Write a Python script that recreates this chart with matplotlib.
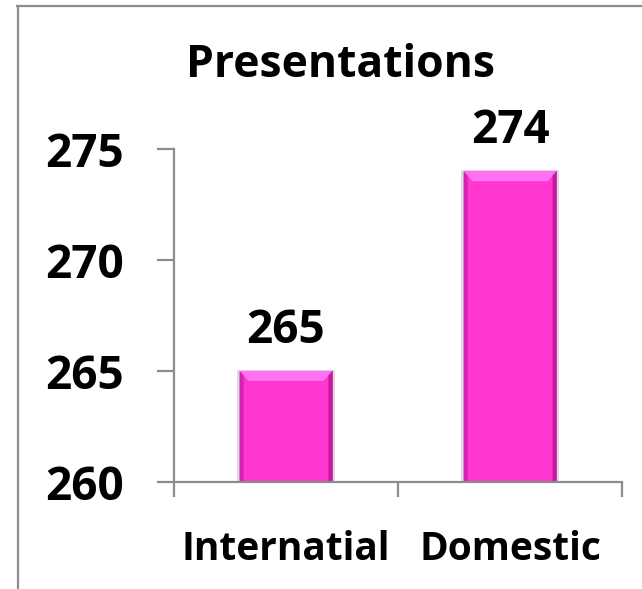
import numpy as np
import matplotlib
matplotlib.use('Agg')
import matplotlib.pyplot as plt
from matplotlib.patches import Polygon, Rectangle
from matplotlib.lines import Line2D

categories = ['Internatial', 'Domestic']
values = [265, 274]
y_ticks = [260, 265, 270, 275]
title = 'Presentations'

plt.rcParams['font.family'] = ['Open Sans', 'DejaVu Sans']
plt.rcParams['font.weight'] = 'bold'

fig = plt.figure(figsize=(6.42, 5.89), dpi=100)
ax = fig.add_axes([0.271, 0.182, 0.698, 0.565])

# outer frame (only top and left edges show)
fig.add_artist(Line2D([0.028, 0.028], [0.0, 0.99], transform=fig.transFigure,
                      color='#8c8c8c', lw=1.6))
fig.add_artist(Line2D([0.027, 1.0], [0.99, 0.99], transform=fig.transFigure,
                      color='#8c8c8c', lw=1.6))

x = np.arange(len(categories))
base = y_ticks[0]
bars = ax.bar(x, np.array(values) - base, bottom=base, width=0.415,
              color='#ff36cf', edgecolor='none', zorder=2)

# bevel: lighter top band, darker sides
bx, by = 0.04, 0.45
for b in bars:
    x0, x1 = b.get_x(), b.get_x() + b.get_width()
    y0, y1 = b.get_y(), b.get_y() + b.get_height()
    ax.add_patch(Polygon([(x0, y1), (x1, y1), (x1 - bx, y1 - by), (x0 + bx, y1 - by)],
                         closed=True, color='#ff72f2', lw=0, zorder=3))
    ax.add_patch(Polygon([(x0, y0), (x0, y1), (x0 + bx * 0.45, y1 - by * 0.45), (x0 + bx * 0.45, y0)],
                         closed=True, color='#d424ad', lw=0, zorder=3))
    ax.add_patch(Polygon([(x1, y0), (x1, y1), (x1 - bx * 0.45, y1 - by * 0.45), (x1 - bx * 0.45, y0)],
                         closed=True, color='#c21c9c', lw=0, zorder=3))
    ax.add_patch(Rectangle((x0 - 0.01, y0), x1 - x0 + 0.02, y1 - y0 + 0.06,
                           color='#a898a8', alpha=0.35, lw=0, zorder=1))
    ax.annotate(str(int(y1)), (b.get_x() + b.get_width() / 2, y1),
                xytext=(0, 20), textcoords='offset points',
                ha='center', va='baseline', fontsize=33, fontweight='bold')

ax.set_xlim(-0.5, len(categories) - 0.5)
ax.set_ylim(y_ticks[0], y_ticks[-1])
ax.set_yticks(y_ticks)
ax.set_yticklabels([str(t) for t in y_ticks], fontsize=33, fontweight='bold')
ax.set_xticks(x)
ax.set_xticklabels(categories, fontsize=28, fontweight='bold')
ax.set_xticks(np.arange(len(categories) + 1) - 0.5, minor=True)
ax.tick_params(axis='x', which='major', length=0, pad=35)
ax.tick_params(axis='x', which='minor', length=11, width=1.6, color='#8c8c8c', direction='out')
ax.tick_params(axis='y', length=12, width=1.6, color='#8c8c8c', pad=24)

for s in ['top', 'right']:
    ax.spines[s].set_visible(False)
for s in ['left', 'bottom']:
    ax.spines[s].set_color('#8c8c8c')
    ax.spines[s].set_linewidth(1.6)
ax.spines['bottom'].set_zorder(4)

fig.text(0.53, 0.869, title, ha='center', va='baseline', fontsize=32, fontweight='bold')

fig.savefig('out.png', dpi=100)
